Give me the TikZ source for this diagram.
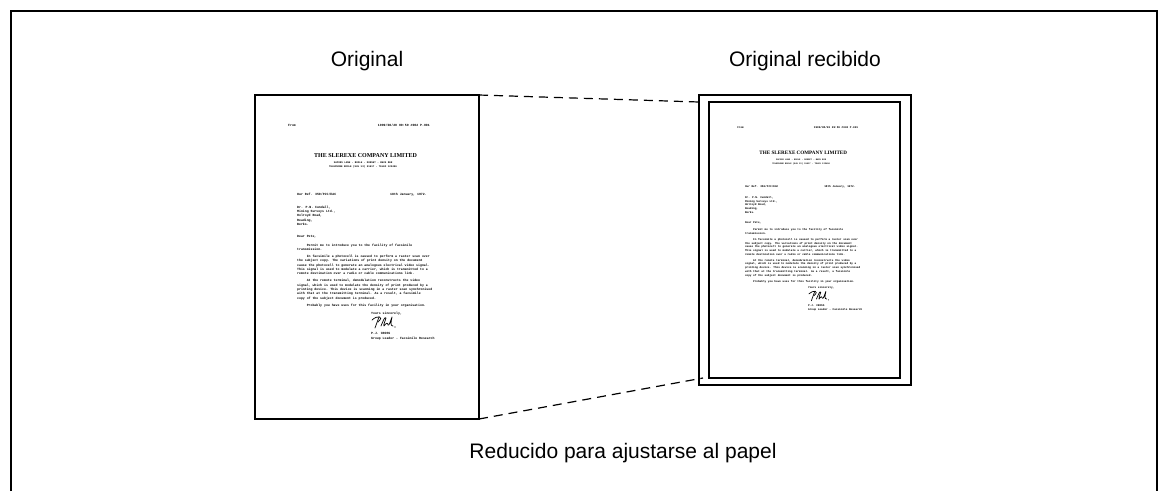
\documentclass[tikz,border=0pt]{standalone}
\usepackage{fontspec}
\setmainfont{Liberation Sans}
\newfontfamily\lettermono{Liberation Mono}
\newfontfamily\letterserif{Liberation Serif}
\usepackage{tikz}
\usetikzlibrary{positioning, calc}

\tikzset{
  frame/.style={line width=2pt, line cap=butt},
  page/.style={draw, line width=1.4pt, inner sep=0pt, outer sep=0pt, anchor=north west},
  caption/.style={font=\fontsize{21}{25}\selectfont, inner sep=0pt},
  connector/.style={line width=1.2pt, dash pattern=on 9pt off 6pt},
  typed/.style={font=\lettermono\bfseries\fontsize{3.2}{4.4}\selectfont, inner sep=0pt, anchor=base west},
  typedblock/.style={typed, anchor=north west, align=left},
  signature/.style={line width=0.7pt, line cap=round, line join=round},
  % the fax test letter, origin at the top left corner of the sheet
  faxletter/.pic={
    \node[typed] (-from) at (33,31) {From};
    \node[typed, anchor=base east] (-stamp) at (175,31) {1999/08/20 09:59 \#002 P.001};
    \node[inner sep=0pt, anchor=base, font=\letterserif\bfseries\fontsize{6}{7}\selectfont] (-title) at (110.5,62) {THE SLEREXE COMPANY LIMITED};
    \node[typed, anchor=north, align=center, font=\lettermono\bfseries\fontsize{2.5}{4.6}\selectfont] (-addr) at (108,66.5)
      {SAPORS LANE - BOOLE - DORSET - BH25 8ER\\TELEPHONE BOOLE (945 13) 51617 - TELEX 123456};
    \node[typed] (-ref) at (42,100) {Our Ref. 350/PJC/EAC};
    \node[typed] (-date) at (135,100) {18th January, 1972.};
    \node[typedblock] (-to) at (42,110.5)
      {Dr. P.N. Cundall,\\Mining Surveys Ltd.,\\Holroyd Road,\\Reading,\\Berks.};
    \node[typed] (-dear) at (42,142) {Dear Pete,};
    \node[typedblock] (-body) at (42,148.5) {%
      \hspace*{3em}Permit me to introduce you to the facility of facsimile\\
      transmission.\\[2.4pt]
      \hspace*{3em}In facsimile a photocell is caused to perform a raster scan over\\
      the subject copy. The variations of print density on the document\\
      cause the photocell to generate an analogous electrical video signal.\\
      This signal is used to modulate a carrier, which is transmitted to a\\
      remote destination over a radio or cable communications link.\\[2.4pt]
      \hspace*{3em}At the remote terminal, demodulation reconstructs the video\\
      signal, which is used to modulate the density of print produced by a\\
      printing device. This device is scanning in a raster scan synchronised\\
      with that at the transmitting terminal. As a result, a facsimile\\
      copy of the subject document is produced.\\[2.4pt]
      \hspace*{3em}Probably you have uses for this facility in your organisation.};
    \node[typed] (-close) at (116,219) {Yours sincerely,};
    % handwritten signature
    \draw[signature] (120,233) -- (124,222);
    \draw[signature] (117,225) .. controls (122,220) and (130,221) .. (123,227);
    \draw[signature] (126,231) .. controls (128,226) and (130,221) .. (131,223)
      .. controls (130,227) and (128,230) .. (129,231)
      .. controls (131,228) and (133,227) .. (133,230)
      .. controls (134,232) and (136,224) .. (137,222)
      .. controls (136,227) and (135,231) .. (138,231);
    \fill (140,232) circle (0.6pt);
    \node[typedblock] (-name) at (116,237.5) {P.J. CROSS\\Group Leader - Facsimile Research};
  }
}

\begin{document}
\begin{tikzpicture}[x=1pt, y=-1pt]
\useasboundingbox (0,0) rectangle (1164,491);

\draw[frame] (11,491) -- (11,11) -- (1157,11) -- (1157,491);

% sheets
\node[page, minimum width=224pt, minimum height=324pt] (orig) at (255,95) {};
\node[page, minimum width=212pt, minimum height=290pt] (recv) at (699,95) {};
\node[page, minimum width=191pt, minimum height=276pt] (recvin) at (709,102) {};

\pic (L) at (orig.north west) {faxletter};
\pic[scale=0.853, transform shape] (R) at (recvin.north west) {faxletter};

% reduction lines
\draw[connector] (orig.north east) -- (recv.west |- recvin.north);
\draw[connector] (orig.south east) -- ($(recv.west |- recvin.south)+(4,0)$);

\node[caption] (origlbl) at (367,61) {Original};
\node[caption] (recvlbl) at (805,61) {Original recibido};
\node[caption] (note) at (623,453) {Reducido para ajustarse al papel};
\end{tikzpicture}
\end{document}
